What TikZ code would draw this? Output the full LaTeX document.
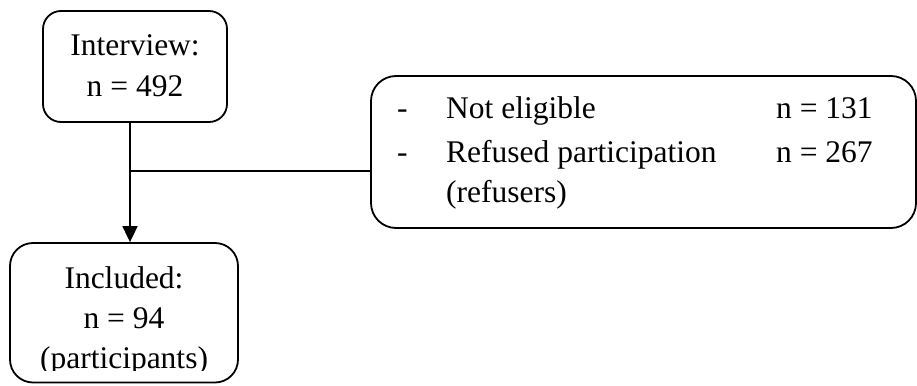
\documentclass[tikz,border=0pt]{standalone}
\usepackage{fontspec}
\setmainfont{Liberation Serif}
\usetikzlibrary{arrows.meta}
\begin{document}
\begin{tikzpicture}[x=1pt,y=-1pt,
  box/.style={draw=black, line width=1.8pt, rectangle, inner sep=0pt},
  txt/.style={inner sep=0pt, anchor=base, font=\fontsize{31.5}{40}\selectfont},
  txtl/.style={txt, anchor=base west},
  conn/.style={draw=black, line width=1.8pt},
  arr/.style={conn, -{Triangle[width=15pt,length=16pt]}}]
\useasboundingbox (0,0) rectangle (917,385);
% boxes
\node[box, rounded corners=18pt, minimum width=184pt, minimum height=111pt] (box1) at (135,66.5) {};
\node[box, rounded corners=25pt, minimum width=545pt, minimum height=152pt] (box2) at (643.5,152) {};
\node[box, rounded corners=23pt, minimum width=228pt, minimum height=139.5pt] (box3) at (124,312.75) {};
% box 1 text
\node[txt] (t11) at (135,56) {Interview:};
\node[txt] (t12) at (135,97) {n = 492};
% box 2 text
\node[txtl] (d1) at (397,118) {-};
\node[txtl] (t21) at (446,118) {Not eligible};
\node[txtl] (n21) at (776,118) {n = 131};
\node[txtl] (d2) at (397,162) {-};
\node[txtl] (t22) at (446,162) {Refused participation};
\node[txtl] (n22) at (776,162) {n = 267};
\node[txtl] (t23) at (446,202) {(refusers)};
% box 3 text (clipped at the bottom)
\begin{scope}
\clip (12,245) rectangle (236,370);
\node[txt] (t31) at (124,288) {Included:};
\node[txt] (t32) at (124,328) {n = 94};
\node[txt] (t33) at (124,368) {(participants)};
\end{scope}
% connectors
\coordinate (top) at ([xshift=-5pt]box1.south);
\coordinate (j) at (top |- 0,171);
\draw[arr] (top) -- (top |- box3.north);
\draw[conn] (j) -- (j -| box2.west);
\end{tikzpicture}
\end{document}
